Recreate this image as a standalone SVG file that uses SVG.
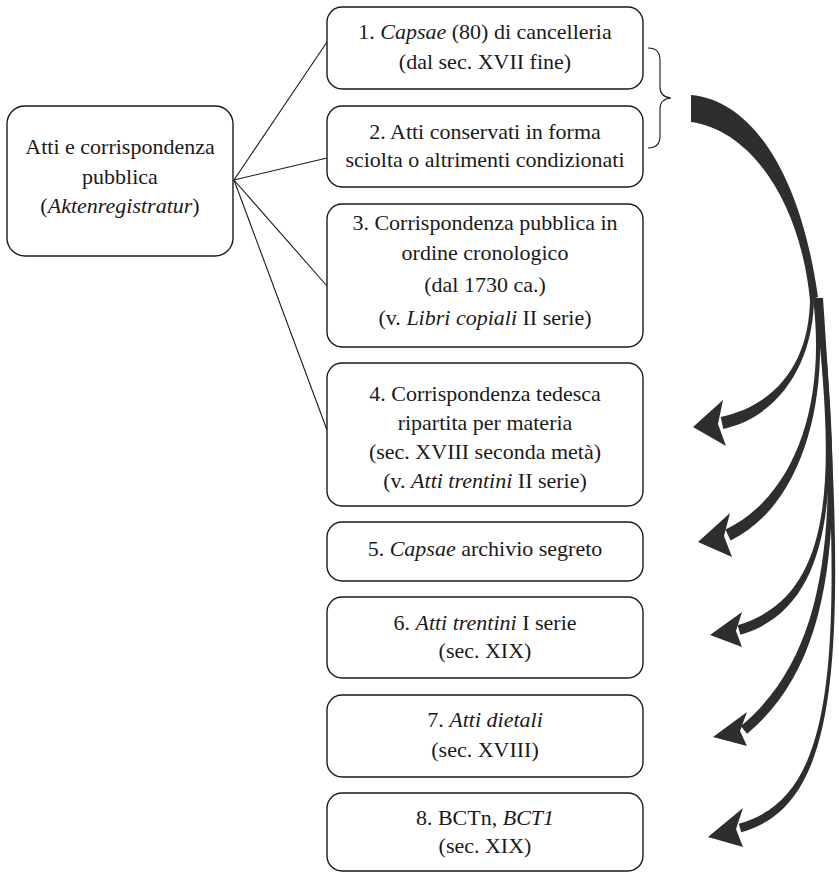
<svg xmlns="http://www.w3.org/2000/svg" width="839" height="872" viewBox="0 0 839 872">
<style>
.box{fill:#fff;stroke:#1a1a1a;stroke-width:1.4}
.t{font-family:'Liberation Serif','DejaVu Serif',Times,serif;font-size:22px;fill:#1a1a1a;text-anchor:middle}
.i{font-style:italic}
.ln{stroke:#1a1a1a;stroke-width:1.1;fill:none}
.ar{fill:#2e2e2e}
</style>
<rect x="0" y="0" width="839" height="872" fill="#fff"/>

<g id="connectors">
<line class="ln" x1="234" y1="180" x2="327" y2="42"/>
<line class="ln" x1="234" y1="180" x2="327" y2="158"/>
<line class="ln" x1="234" y1="180" x2="327" y2="286"/>
<line class="ln" x1="234" y1="180" x2="327" y2="430"/>
<path class="ln" d="M648,48 Q660,48 660,60 L660,87 Q660,97 671,98 Q660,99 660,109 L660,136 Q660,148 648,148"/>
</g>

<g id="node-root">
<rect class="box" x="7" y="106" width="226" height="150" rx="18"/>
<text class="t" x="120" y="154">Atti e corrispondenza</text>
<text class="t" x="120" y="183.5">pubblica</text>
<text class="t" x="120" y="213">(<tspan class="i">Aktenregistratur</tspan>)</text>
</g>

<g id="node-1">
<rect class="box" x="327" y="7" width="316" height="82" rx="15"/>
<text class="t" x="485" y="39">1. <tspan class="i">Capsae</tspan> (80) di cancelleria</text>
<text class="t" x="485" y="69">(dal sec. XVII fine)</text>
</g>

<g id="node-2">
<rect class="box" x="327" y="106" width="316" height="81" rx="15"/>
<text class="t" x="485" y="139">2. Atti conservati in forma</text>
<text class="t" x="485" y="167">sciolta o altrimenti condizionati</text>
</g>

<g id="node-3">
<rect class="box" x="327" y="204" width="316" height="143" rx="15"/>
<text class="t" x="485" y="230">3. Corrispondenza pubblica in</text>
<text class="t" x="485" y="260">ordine cronologico</text>
<text class="t" x="485" y="292">(dal 1730 ca.)</text>
<text class="t" x="485" y="325">(v. <tspan class="i">Libri copiali</tspan> II serie)</text>
</g>

<g id="node-4">
<rect class="box" x="327" y="363" width="316" height="143" rx="15"/>
<text class="t" x="485" y="401">4. Corrispondenza tedesca</text>
<text class="t" x="485" y="430">ripartita per materia</text>
<text class="t" x="485" y="459">(sec. XVIII seconda metà)</text>
<text class="t" x="485" y="488">(v. <tspan class="i">Atti trentini</tspan> II serie)</text>
</g>

<g id="node-5">
<rect class="box" x="327" y="522" width="316" height="59" rx="15"/>
<text class="t" x="485" y="556">5. <tspan class="i">Capsae</tspan> archivio segreto</text>
</g>

<g id="node-6">
<rect class="box" x="327" y="597" width="316" height="81" rx="15"/>
<text class="t" x="485" y="630">6. <tspan class="i">Atti trentini</tspan> I serie</text>
<text class="t" x="485" y="658">(sec. XIX)</text>
</g>

<g id="node-7">
<rect class="box" x="327" y="695" width="316" height="82" rx="15"/>
<text class="t" x="485" y="727">7. <tspan class="i">Atti dietali</tspan></text>
<text class="t" x="485" y="757">(sec. XVIII)</text>
</g>

<g id="node-8">
<rect class="box" x="327" y="793" width="316" height="78" rx="15"/>
<text class="t" x="485" y="825">8. BCTn, <tspan class="i">BCT1</tspan></text>
<text class="t" x="485" y="853">(sec. XIX)</text>
</g>

<g id="arrows">
<path class="ar" d="M691,95 C750,100 800,170 818,297 L810,300 C800,200 750,130 691,122 Z"/>
<path class="ar" d="M814,297 C814,360 781.3,415.9 723.3,428.9 L720.7,417.1 C778.7,404.1 810,360 810,297 Z"/>
<path class="ar" d="M817,297.8 C830,399.8 802.6,505.4 730.6,540.4 L725.4,529.6 C797.4,494.6 826,400.2 813,298.2 Z"/>
<path class="ar" d="M819,297.8 C838,469.8 841.4,604.8 740.4,634.8 L737.6,625.2 C838.6,595.2 834,470.2 815,298.2 Z"/>
<path class="ar" d="M821,297.8 C842,499.8 843.2,653.8 747.2,733.8 L740.8,726.2 C836.8,646.2 838,500.2 817,298.2 Z"/>
<path class="ar" d="M823,297.9 C847,649.9 843.2,804.3 741.2,832.3 L738.8,823.7 C840.8,795.7 843,650.1 819,298.1 Z"/>
<polygon class="ar" points="693,427 723,400 718,424 726,446"/>
<polygon class="ar" points="698,542 730,513 724,536 732,557"/>
<polygon class="ar" points="710,635 742,612 736,631 742,647"/>
<polygon class="ar" points="713,737 747,712 740,731 747,746"/>
<polygon class="ar" points="708,837 743,808 736,829 743,847"/>
</g>
</svg>
